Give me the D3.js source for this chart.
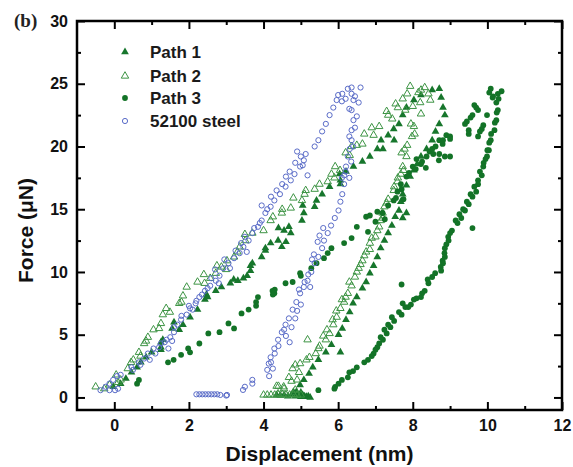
<!DOCTYPE html>
<html><head><meta charset="utf-8">
<script src="https://cdn.jsdelivr.net/npm/d3@7"></script>
<style>
html,body{margin:0;padding:0;background:#fff;}
svg{display:block;}
</style></head>
<body>
<svg id="chart" width="573" height="467"></svg>
<script>
// ---------------- data ----------------
const seriesNames = ["Path 1", "Path 2", "Path 3", "52100 steel"];
const xTicks = [0, 2, 4, 6, 8, 10, 12];
const yTicks = [0, 5, 10, 15, 20, 25, 30];
const xMinorTicks = [1, 3, 5, 7, 9, 11];
const yMinorTicks = [2.5, 7.5, 12.5, 17.5, 22.5, 27.5];

// Path 1 (filled triangles) [displacement nm, force uN]
const path1 = [
[-0.03,0.85],[0.17,1.1],[0.31,1.5],[0.46,2.0],[0.61,2.4],[0.71,2.8],[0.85,3.2],[1.0,3.6],[1.25,4.0],[1.25,3.8],[1.25,4.4],[1.3,4.6],
[1.55,5.5],[1.6,6.0],[1.74,5.4],[1.84,5.8],[2.03,6.4],[2.23,7.0],[2.43,7.8],[2.47,8.2],[2.5,8.0],[2.72,8.5],[2.87,8.8],[3.11,9.1],
[3.2,9.4],[3.31,9.3],[3.46,9.5],[3.56,9.7],[3.65,10.1],[3.65,10.5],[3.7,10.7],[3.95,11.2],[4.05,11.7],[4.05,11.9],[4.19,12.3],[4.39,12.5],
[4.49,12.0],[4.4,13.5],[4.55,13.3],[4.6,12.4],[4.73,13.1],[4.68,13.6],[5.03,14.1],[5.08,14.7],[5.05,15.3],[5.37,15.2],[5.42,15.7],
[5.57,16.2],[5.77,16.8],[6.04,17.8],[6.06,17.0],[6.06,17.3],[6.21,18.0],[6.41,18.4],[6.65,18.8],[6.85,19.2],[7.05,19.8],[7.2,19.8],
[7.15,20.5],[7.5,20.5],[7.34,20.9],[7.49,21.4],[7.63,21.8],[7.73,22.5],[7.83,23.1],[8.03,23.7],[8.22,24.1],[8.52,24.5],[8.71,24.6],
[8.76,23.9],[8.81,23.1],[8.86,22.5],[8.71,21.8],[8.61,21.2],[8.52,20.5],[8.37,19.8],[8.22,19.2],[8.12,18.6],[8.03,18.1],[7.93,17.6],
[7.83,16.9],[7.73,16.2],[7.68,15.6],[7.83,14.7],[7.73,14.3],[7.63,14.9],[7.53,14.4],[7.44,13.7],[7.34,13.1],[7.24,12.5],[7.14,11.9],
[7.05,11.2],[6.95,10.5],[6.85,9.9],[6.75,9.2],[6.65,8.7],[6.5,8.0],[6.4,7.5],[6.31,6.8],[6.21,6.2],[6.11,5.5],[6.01,5.0],[6.06,3.6],
[5.82,4.2],[5.67,3.6],[5.47,3.0],[5.32,2.4],[5.22,1.9],[5.08,1.4],[4.98,1.0],[4.88,0.45],
[4.35,0.2],[4.45,0.15],[4.55,0.2],[4.65,0.1],[4.75,0.2],[4.85,0.1],[4.9,0.3],[4.95,0.15],[5.0,0.05],[5.05,0.2],[5.1,0.1],
[5.15,0.05],[5.2,0.1],[5.25,0.0],[4.8,0.45],[5.0,0.4]
];

// Path 2 (open triangles)
const path2 = [
[-0.5,0.85],[-0.27,0.7],[-0.13,1.0],[0.05,1.8],[0.1,1.2],[0.17,1.4],[0.36,2.3],[0.45,2.8],[0.51,3.0],[0.66,3.6],[0.7,3.3],[0.8,4.3],
[0.85,4.5],[0.9,4.8],[1.05,5.4],[1.2,5.5],[1.25,5.9],[1.3,6.6],[1.39,7.1],[1.49,6.8],[1.74,7.5],[1.8,7.6],[1.84,8.1],[1.94,8.8],
[2.23,9.2],[2.42,9.1],[2.4,9.8],[2.57,9.5],[2.72,9.9],[2.75,10.5],[2.87,10.4],[3.02,10.9],[3.0,10.2],[3.21,11.2],[3.3,11.6],
[3.36,12.0],[3.51,12.5],[3.5,13.0],[3.7,13.1],[4.0,13.3],[4.19,14.1],[4.25,14.4],[4.49,14.7],[4.5,15.0],[4.73,15.1],[4.8,15.9],
[5.03,15.7],[5.1,16.2],[5.13,16.5],[5.37,16.6],[5.5,17.0],[5.72,17.2],[5.82,17.8],[5.9,17.5],[5.92,18.4],[6.05,18.1],[6.2,19.5],
[6.31,19.3],[6.36,20.0],[6.5,20.1],[6.65,20.2],[6.7,21.0],[6.9,21.5],[6.95,20.9],[7.1,21.6],[7.3,22.8],[7.34,22.5],[7.45,22.2],
[7.54,23.4],[7.6,23.1],[7.73,23.8],[7.8,22.9],[7.85,24.2],[7.93,24.8],[8.0,23.2],[8.15,24.3],[8.2,23.5],[8.22,24.5],[8.32,24.7],
[8.42,24.2],[8.47,23.7],[8.22,22.6],[8.03,21.6],[7.95,21.8],[8.05,21.0],[7.98,20.8],[7.85,20.1],[7.78,19.8],[7.7,19.5],[7.83,19.2],
[7.73,18.4],[7.75,18.1],[7.68,17.8],[7.6,17.5],[7.59,17.2],[7.5,16.8],[7.49,16.5],[7.34,15.8],[7.3,15.5],[7.24,15.2],[7.19,14.7],
[7.2,14.3],[7.14,14.1],[7.1,13.6],[7.05,13.3],[7.0,12.8],[6.9,12.7],[6.85,12.3],[6.85,11.8],[6.75,11.6],[6.7,11.3],[6.65,10.9],
[6.6,10.6],[6.55,10.3],[6.5,10.0],[6.45,9.6],[6.36,8.9],[6.3,9.2],[6.26,8.3],[6.2,8.0],[6.16,7.6],[6.1,7.8],[6.06,7.1],[5.96,6.4],
[5.95,6.9],[5.87,5.8],[5.85,6.2],[5.77,5.1],[5.7,5.4],[5.67,4.6],[5.6,4.9],[5.5,4.1],[5.47,3.9],[5.4,3.5],[5.23,3.2],[5.18,4.6],
[5.15,3.0],[4.98,2.7],[4.85,2.6],[4.95,2.0],[4.78,2.3],[4.9,1.4],[4.75,1.3],[4.68,1.6],[4.54,0.85],[4.4,0.9],[4.39,0.3],
[4.0,0.2],[4.1,0.2],[4.2,0.2],[4.3,0.2],[4.4,0.2],[4.5,0.25],[4.6,0.2],[4.7,0.2],[4.8,0.25],[4.9,0.2],[5.0,0.2],
[4.35,0.9],[4.55,0.7],[4.85,0.6]
];

// Path 3 (filled circles)
const path3 = [
[0.61,1.1],[0.66,1.4],[1.44,2.8],[1.59,3.0],[1.79,3.4],[1.98,3.9],[2.03,3.6],[2.28,4.3],[2.52,5.1],[2.82,5.2],[3.06,5.9],[3.21,5.5],
[3.41,6.7],[3.6,7.0],[3.8,7.3],[3.8,7.6],[3.85,8.0],[4.24,8.5],[4.25,8.2],[4.29,8.3],[4.3,8.6],[4.59,9.1],[4.78,9.2],[4.98,9.9],
[5.0,9.7],[5.28,10.3],[5.42,10.7],[5.62,11.1],[5.72,11.5],[5.82,11.9],[6.16,12.3],[6.36,12.7],[6.5,13.6],[6.8,13.2],[6.75,14.4],
[6.85,14.5],[7.0,14.0],[7.05,14.8],[7.19,14.7],[7.25,14.2],[7.34,15.3],[7.49,15.7],[7.55,15.9],[7.59,16.4],[7.7,16.6],[7.75,15.8],
[7.68,17.0],[7.83,17.6],[7.9,17.9],[8.0,18.4],[8.08,18.2],[8.1,19.0],[8.22,18.6],[8.25,18.8],[8.35,18.3],[8.37,19.2],[8.45,19.6],
[8.52,19.8],[8.55,19.4],[8.61,20.0],[8.7,18.9],[8.71,20.5],[8.81,20.5],[8.8,20.2],[8.86,19.2],[8.71,19.4],[8.9,20.9],[9.0,20.8],
[9.0,20.6],[9.0,19.2],
[9.45,22.0],[9.5,21.3],[9.4,21.8],[9.55,22.3],[9.6,22.5],[9.65,23.3],[9.7,23.1],[9.75,22.9],[9.8,21.2],[9.89,21.7],[9.99,22.5],
[9.5,21.0],[9.75,20.8],[9.85,21.4],[10.09,24.6],[10.05,24.3],[10.14,23.9],[10.15,24.0],[10.24,23.5],[10.28,24.2],[10.3,23.8],
[10.38,24.4],[10.28,22.9],[10.25,22.7],[10.24,22.1],[10.2,21.9],[10.19,21.3],[10.1,21.0],[10.09,20.5],[10.05,20.3],[10.04,19.7],
[10.0,19.7],[9.99,19.2],[9.95,19.0],[9.9,18.7],[9.89,18.4],[9.85,17.7],[9.8,18.0],[9.75,17.3],[9.75,17.0],[9.7,16.4],[9.65,16.8],
[9.6,16.0],[9.55,16.2],[9.5,15.4],[9.45,15.6],[9.4,14.9],[9.35,15.0],[9.3,14.3],[9.25,14.6],[9.2,13.9],[9.15,14.1],[9.6,13.5],
[9.05,13.3],[9.0,13.1],[8.96,12.5],[8.95,12.8],[8.9,12.2],[8.86,11.9],[8.85,11.5],[8.86,11.2],[8.8,10.9],[8.81,10.7],[8.75,10.4],
[8.76,10.1],[8.6,9.9],[8.52,9.6],[8.4,9.4],[8.42,9.1],[8.32,8.5],[8.25,8.3],[8.22,8.0],[8.1,7.9],[8.03,7.8],[7.95,7.4],[7.88,7.2],
[7.8,7.2],[7.73,7.5],[7.7,6.6],[7.63,6.8],[7.5,6.1],[7.44,6.4],[7.4,5.6],[7.34,5.8],[7.3,5.1],[7.24,5.4],[7.2,4.6],[7.14,4.8],
[7.1,4.3],[7.05,4.0],[7.0,3.8],[6.95,3.5],[6.9,3.3],[6.8,3.0],[6.7,2.8],[6.5,2.4],[6.4,2.1],[6.3,2.0],[6.26,1.6],[6.1,1.4],
[6.01,1.1],[5.92,0.85],[5.9,0.7],[5.47,0.58],[7.7,9.0]
];

// 52100 steel (open circles)
const steel = [
[-0.37,0.58],[-0.23,0.85],[-0.13,1.1],[-0.03,1.4],[0.07,1.7],[0.17,1.8],[-0.13,0.58],[0.02,0.58],[0.1,0.7],
[0.46,2.4],[0.5,2.2],[0.66,2.8],[0.7,2.6],[0.8,3.1],[0.9,3.5],[0.95,3.0],[1.05,3.9],[1.1,3.5],[1.2,4.0],[1.25,4.3],[1.35,4.4],
[1.4,4.6],[1.45,3.9],[1.5,4.8],[1.55,4.5],[1.6,5.2],[1.6,5.6],[1.69,5.8],[1.79,6.2],[1.8,6.5],[1.94,6.6],[2.0,7.3],[2.03,7.1],
[2.1,7.0],[2.18,7.5],[2.2,7.7],[2.28,8.0],[2.35,8.2],[2.43,8.5],[2.5,8.7],[2.57,8.9],[2.6,9.5],[2.72,9.3],[2.7,10.2],[2.8,9.1],
[2.82,9.7],[2.92,10.3],[2.95,11.0],[3.06,10.7],[3.1,10.3],[3.21,11.1],[3.25,11.7],[3.36,11.5],[3.4,12.3],[3.46,12.0],[3.5,12.8],
[3.55,11.6],[3.6,12.5],[3.7,13.1],[3.75,13.5],[3.85,13.6],[3.9,13.9],[3.95,14.1],[3.95,15.3],[4.05,14.7],[4.1,15.0],[4.19,15.2],
[4.2,16.0],[4.29,15.7],[4.35,16.5],[4.44,16.2],[4.5,17.0],[4.59,16.8],[4.6,17.6],[4.7,18.0],[4.73,17.3],[4.83,17.8],[4.85,18.7],
[4.98,18.4],[5.0,19.2],[4.9,19.6],[5.08,18.9],[5.13,19.4],[5.05,18.5],[5.18,17.7],[5.37,20.0],[5.47,20.5],[5.57,21.2],[5.67,21.8],
[5.77,22.5],[5.87,23.1],[5.96,23.7],[6.0,24.1],[6.11,24.2],[6.1,23.6],[6.2,23.8],[6.26,24.6],[6.36,24.7],[6.6,24.7],
[6.36,24.2],[6.41,23.7],[6.45,24.0],[6.55,23.5],[6.3,23.0],[6.36,22.9],[6.5,22.4],[6.41,22.1],[6.45,21.5],[6.36,21.3],[6.3,20.8],
[6.36,20.5],[6.4,20.0],[6.31,19.8],[6.35,18.8],[6.26,19.2],[6.21,18.4],[6.2,18.0],[6.16,17.7],[6.1,17.5],[6.3,17.5],[6.16,17.0],
[6.11,16.2],[6.06,15.6],[6.01,14.9],[5.91,14.3],[5.81,13.7],[5.6,13.5],[5.72,13.1],[5.5,12.9],[5.62,12.5],[5.45,12.4],[5.57,11.9],
[5.35,11.4],[5.47,11.2],[5.3,11.0],[5.37,10.7],[5.28,10.0],[5.2,9.8],[5.18,9.3],[5.1,9.2],[5.25,8.8],[5.08,8.8],[4.95,8.6],
[4.98,8.3],[4.88,7.6],[5.0,7.4],[4.78,7.0],[4.9,6.9],[4.68,6.3],[4.85,6.3],[4.59,5.8],[4.75,5.6],[4.55,5.4],[4.49,5.2],[4.6,4.9],
[4.39,4.6],[4.7,4.4],[4.4,4.1],[4.29,3.9],[4.3,3.5],[4.19,3.2],[4.2,2.8],[4.14,2.7],[4.25,2.3],[4.1,2.2],[4.15,1.7],
[3.7,1.4],[3.7,1.1],[3.5,0.85],[3.45,0.6],[3.02,0.2],
[2.2,0.25],[2.28,0.25],[2.36,0.25],[2.44,0.25],[2.52,0.25],[2.6,0.25],[2.68,0.25],[2.76,0.25],[2.84,0.2],[3.0,0.15]
];

// ---------------- drawing ----------------
const svg = d3.select("#chart");
const W = 573, H = 467;
const m = {left: 77, right: 562, top: 21, bottom: 410};
const x = d3.scaleLinear().domain([-1, 12]).range([m.left, m.right]);
const y = d3.scaleLinear().domain([-1, 30]).range([m.bottom, m.top]);

const colP1 = "#17762c", colP2 = "#3d9444", colP3 = "#137327", colSteel = "#5a6cc8";
const tickFont = "Liberation Sans, Arial, sans-serif";

// axes with inward ticks
function styleAxis(g){
  g.select(".domain").remove();
  g.selectAll(".tick line").attr("stroke","#000").attr("stroke-width",2);
  g.selectAll(".tick text").attr("fill","#111").style("font-family",tickFont).style("font-size","16px").style("font-weight","bold");
}
const gx = svg.append("g").attr("transform",`translate(0,${m.bottom})`)
  .call(d3.axisBottom(x).tickValues(xTicks).tickSize(-8).tickPadding(10).tickFormat(d3.format("d")));
styleAxis(gx);
const gxm = svg.append("g").attr("transform",`translate(0,${m.bottom})`)
  .call(d3.axisBottom(x).tickValues(xMinorTicks).tickSize(-4).tickFormat(""));
styleAxis(gxm);
const gxt = svg.append("g").attr("transform",`translate(0,${m.top})`)
  .call(d3.axisTop(x).tickValues(xTicks).tickSize(-8).tickFormat(""));
styleAxis(gxt);
const gxtm = svg.append("g").attr("transform",`translate(0,${m.top})`)
  .call(d3.axisTop(x).tickValues(xMinorTicks).tickSize(-4).tickFormat(""));
styleAxis(gxtm);

const gy = svg.append("g").attr("transform",`translate(${m.left},0)`)
  .call(d3.axisLeft(y).tickValues(yTicks).tickSize(-8).tickPadding(9).tickFormat(d3.format("d")));
styleAxis(gy);
const gym = svg.append("g").attr("transform",`translate(${m.left},0)`)
  .call(d3.axisLeft(y).tickValues(yMinorTicks).tickSize(-4).tickFormat(""));
styleAxis(gym);
const gyr = svg.append("g").attr("transform",`translate(${m.right},0)`)
  .call(d3.axisRight(y).tickValues(yTicks).tickSize(-8).tickFormat(""));
styleAxis(gyr);
const gyrm = svg.append("g").attr("transform",`translate(${m.right},0)`)
  .call(d3.axisRight(y).tickValues(yMinorTicks).tickSize(-4).tickFormat(""));
styleAxis(gyrm);

// frame
svg.append("rect").attr("x",m.left).attr("y",m.top).attr("width",m.right-m.left).attr("height",m.bottom-m.top)
  .attr("fill","none").attr("stroke","#000").attr("stroke-width",2.5);

// markers
const tri = d3.symbol().type(d3.symbolTriangle).size(26);
const plot = svg.append("g");
plot.append("g").selectAll("path").data(path1).join("path")
  .attr("d",tri).attr("transform",d=>`translate(${x(d[0])},${y(d[1])})`).attr("fill",colP1);
plot.append("g").selectAll("path").data(path2).join("path")
  .attr("d",d3.symbol().type(d3.symbolTriangle).size(24)).attr("transform",d=>`translate(${x(d[0])},${y(d[1])})`)
  .attr("fill","none").attr("stroke",colP2).attr("stroke-width",1);
plot.append("g").selectAll("circle").data(path3).join("circle")
  .attr("cx",d=>x(d[0])).attr("cy",d=>y(d[1])).attr("r",2.9).attr("fill",colP3);
plot.append("g").selectAll("circle").data(steel).join("circle")
  .attr("cx",d=>x(d[0])).attr("cy",d=>y(d[1])).attr("r",2.6)
  .attr("fill","none").attr("stroke",colSteel).attr("stroke-width",1);

// legend
const legY = [52, 76, 98, 121];
const leg = svg.append("g");
leg.append("path").attr("d",d3.symbol().type(d3.symbolTriangle).size(26)).attr("transform",`translate(125,${legY[0]})`).attr("fill",colP1);
leg.append("path").attr("d",d3.symbol().type(d3.symbolTriangle).size(24)).attr("transform",`translate(125,${legY[1]})`).attr("fill","none").attr("stroke",colP2);
leg.append("circle").attr("cx",125).attr("cy",legY[2]).attr("r",2.9).attr("fill",colP3);
leg.append("circle").attr("cx",125).attr("cy",legY[3]).attr("r",2.6).attr("fill","none").attr("stroke",colSteel);
leg.selectAll("text").data(seriesNames).join("text")
  .attr("x",150).attr("y",(d,i)=>legY[i]).attr("dy","0.36em")
  .style("font-family",tickFont).style("font-size","17px").style("font-weight","bold").attr("fill","#1a1a1a")
  .text(d=>d);

// axis titles
svg.append("text").attr("x",(m.left+m.right)/2).attr("y",461).attr("text-anchor","middle")
  .style("font-family",tickFont).style("font-size","21px").style("font-weight","bold").attr("fill","#111")
  .text("Displacement (nm)");
svg.append("text").attr("transform",`translate(33,${(m.top+m.bottom)/2+15}) rotate(-90)`).attr("text-anchor","middle")
  .style("font-family",tickFont).style("font-size","21px").style("font-weight","bold").attr("fill","#111")
  .text("Force (\u03BCN)");
svg.append("text").attr("x",14).attr("y",27)
  .style("font-family","Liberation Serif, Times New Roman, serif").style("font-size","19px").style("font-weight","bold").attr("fill","#222")
  .text("(b)");
</script>
</body></html>
